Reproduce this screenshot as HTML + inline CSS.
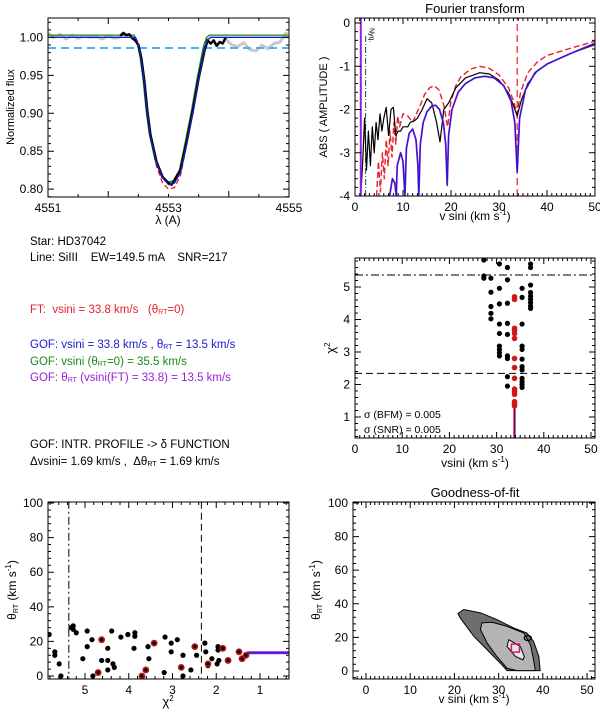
<!DOCTYPE html>
<html><head><meta charset="utf-8">
<style>
html,body{margin:0;padding:0;background:#fff;}
body{width:600px;height:712px;overflow:hidden;position:relative;font-family:"Liberation Sans",sans-serif;}
.t{position:absolute;left:30px;font-size:11.5px;white-space:nowrap;}
sub{font-size:7px;vertical-align:-1px;}
</style></head>
<body>
<svg id="fig" width="600" height="712" style="position:absolute;left:0;top:0" font-family="Liberation Sans, sans-serif"></svg>
<div class="t" style="top:236px">Star: HD37042</div>
<div class="t" style="top:252px">Line: SiIII &nbsp;&nbsp; EW=149.5 mA &nbsp;&nbsp; SNR=217</div>
<div class="t" style="top:304px;color:#e8202a">FT: &nbsp;vsini = 33.8 km/s &nbsp;&nbsp;(θ<sub>RT</sub>=0)</div>
<div class="t" style="top:339px;color:#1a1ad0">GOF: vsini = 33.8 km/s , θ<sub>RT</sub> = 13.5 km/s</div>
<div class="t" style="top:356px;color:#1a8a1a">GOF: vsini (θ<sub>RT</sub>=0) = 35.5 km/s</div>
<div class="t" style="top:372px;color:#9a20d8">GOF: θ<sub>RT</sub> (vsini(FT) = 33.8) = 13.5 km/s</div>
<div class="t" style="top:439px">GOF: INTR. PROFILE -&gt; δ FUNCTION</div>
<div class="t" style="top:456px">Δvsini= 1.69 km/s , &nbsp;Δθ<sub>RT</sub> = 1.69 km/s</div>
<script>
// ---------- data ----------
const profObsLam = [4552.2,4552.25,4552.3,4552.35,4552.4,4552.45,4552.5,4552.55,4552.6,4552.65,4552.7,4552.8,4552.9,4553,4553.05,4553.1,4553.2,4553.3,4553.4,4553.5,4553.6,4553.65,4553.7,4553.75,4553.8,4553.85,4553.9,4553.95];
const profObsFlux = [1.002,1.006,1.003,1.004,0.999,0.996,0.99,0.972,0.942,0.902,0.872,0.836,0.816,0.808,0.806,0.812,0.825,0.862,0.902,0.946,0.984,0.996,0.992,0.996,0.989,0.994,0.992,1.0];
const profGrayLam = [4551,4551.1,4551.2,4551.3,4551.4,4551.5,4551.6,4551.7,4551.8,4551.9,4552,4552.1,4552.2];
const profGrayFlux = [1.006,1.0,1.004,0.998,1.003,0.999,1.002,1.0,1.001,0.998,1.002,0.999,1.0];
const profGrayLam2 = [4553.95,4554.05,4554.15,4554.25,4554.35,4554.45,4554.55,4554.65,4554.75,4554.85,4554.95,4555];
const profGrayFlux2 = [0.998,0.99,0.988,0.993,0.984,0.982,0.99,0.985,0.992,0.994,1.006,1.0];
const profModelLam = [4551,4552.45,4552.5,4552.55,4552.6,4552.65,4552.7,4552.8,4552.9,4553,4553.1,4553.2,4553.3,4553.4,4553.5,4553.6,4553.65,4553.7,4555];
const profModelFlux = [1,1,0.99,0.97,0.94,0.90,0.87,0.835,0.815,0.806,0.808,0.822,0.86,0.90,0.945,0.985,0.997,1,1];
const profRedLam = [4552.45,4552.5,4552.55,4552.6,4552.65,4552.7,4552.8,4552.9,4553,4553.1,4553.2,4553.3,4553.4,4553.5,4553.6,4553.65,4553.7];
const profRedFlux = [1,0.993,0.975,0.944,0.902,0.868,0.83,0.808,0.8,0.802,0.818,0.858,0.90,0.948,0.99,1.0,1];
const contLevel = 0.986;

const ftX = [1.2,1.6,2,2.4,2.8,3.2,3.6,4,4.4,4.8,5.2,5.6,6,6.5,7,7.5,8,8.5,9,9.5,10,11,11.5,12.5,13,14,15,16,17,17.7,18.5,19.5,21,23,26,28,30,32,33,33.8,34.6,36,38,40,45,50];
const ftBlack = [-4,-3.2,-2.2,-3.4,-2.5,-3.3,-2.4,-3.0,-2.3,-2.7,-2.1,-2.5,-2.2,-1.95,-2.6,-2.0,-1.95,-2.6,-2.5,-2.5,-2.4,-2.4,-2.3,-2.25,-2.2,-2.0,-1.75,-1.85,-2.3,-2.75,-2.0,-1.85,-1.5,-1.27,-1.15,-1.18,-1.32,-1.62,-1.9,-2.15,-1.8,-1.4,-1.1,-0.95,-0.7,-0.5];
const ftBlueX = [7.2,7.8,8.3,8.6,8.8,9.5,10,10.4,10.7,11.3,12,12.7,13.1,13.3,13.6,14.2,15,16,16.8,17.6,18.4,18.9,19.2,19.5,20.2,21.5,23,25,27,29,31,32.5,33.3,33.8,34.3,35.5,37.5,40,45,50];
const ftBlue = [-4,-3.6,-3.7,-4,-3.3,-3.0,-3.2,-4,-2.9,-2.55,-2.45,-2.7,-3.3,-4,-2.8,-2.3,-2.05,-1.92,-1.9,-2.0,-2.3,-2.8,-3.75,-2.6,-2.0,-1.6,-1.4,-1.27,-1.23,-1.27,-1.45,-1.8,-2.3,-3.45,-2.2,-1.55,-1.15,-0.95,-0.7,-0.47];
const ftRedX = [4.5,4.9,5.3,5.7,6.1,6.5,6.9,7.3,7.7,8.1,8.5,8.9,9.3,10,11,12,12.8,13.6,14.5,15.5,16.5,17.5,18.5,19.3,20,21,22,24,26,28,30,32,33,33.8,34.5,36,38,40,45,50];
const ftRed = [-4,-3.2,-3.9,-3.0,-3.6,-2.7,-3.3,-2.5,-3.1,-2.3,-2.8,-2.15,-2.4,-2.1,-2.15,-2.3,-2.1,-1.9,-1.65,-1.5,-1.45,-1.55,-1.9,-2.4,-1.8,-1.45,-1.25,-1.07,-1.0,-1.05,-1.2,-1.5,-1.8,-2.1,-1.6,-1.15,-0.9,-0.75,-0.58,-0.42];
const ftBest = 33.8, nyq = 2.2;

const chiVs = [27.3,27.3,27.3,28.8,28.8,28.8,28.8,28.8,30.6,30.6,30.6,30.6,30.6,30.6,30.6,30.6,30.6,32.3,32.3,32.3,32.3,32.3,32.3,32.3,32.3,32.3,35.4,35.4,35.4,35.4,35.4,35.4,35.4,35.4,35.4,35.4,35.4,35.4,37.2,37.2,37.2,37.2,37.2,37.2,37.2,37.2,37.2];
const chiVals = [5.83,5.34,5.27,5.27,4.84,4.4,4.19,4.02,5.71,4.96,4.48,3.86,3.57,3.18,3.08,2.98,2.88,5.6,5.22,4.5,3.88,3.54,2.88,2.8,2.24,1.95,4.96,4.68,3.86,3.18,3.08,2.78,2.55,2.45,2.19,2.09,2.0,1.91,5.71,5.6,5.06,4.83,4.72,4.62,4.52,4.42,4.34];
const chiRedVals = [4.7,4.62,3.73,3.66,3.57,3.42,2.8,2.52,2.19,1.86,1.78,1.7,1.47,1.4,1.34];
const chiLimit1 = 5.37, chiLimit2 = 2.34;

const thChi = [5.82,5.69,5.69,5.59,5.55,5.32,5.27,5.27,5.2,5.05,4.95,4.95,4.84,4.82,4.62,4.48,4.48,4.48,4.39,4.36,4.33,4.18,4.02,3.86,3.86,3.88,3.56,3.54,3.17,3.19,3.03,3.03,2.89,2.76,2.76,2.58,2.45,2.26,2.24,2.19,2.1,1.96,1.96,1.94,1.98];
const thVal = [24,14,12,7,0,28,27,29,25,10,26,17,21,0,9,16,9,3.5,26,7,5,22.5,24,23,25,16,17,10,22.5,2,19,14,21,12,0,3.5,12,19,14,6,10,17,15,9,7];
const thRedChi = [4.7,4.62,3.7,3.61,3.42,2.8,2.49,2.19,1.85,1.73,1.48,1.41,1.32];
const thRedVal = [2,21,0,3.5,19,5,17,7,16,9,14,10,12];
const thetaBest = 13.5;

const gofOuterV = [20.8,22.1,25.9,29.6,33.4,36.4,37.9,39.1,39.4,31.9,30.4,27.4,24.4,21.3];
const gofOuterT = [34.2,36.6,34.6,30.6,25.6,22.6,17.6,8.6,0.2,0.2,4.6,12.6,20.6,31.6];
const gofMidV = [26.2,28.5,31.9,35.7,37.2,37.9,38.3,34.2,31.9,29.6,27.4,25.9];
const gofMidT = [28.6,29,26.6,22.6,15.6,6.6,0.2,0.2,1.6,8.6,16.6,24.6];
const gofInV = [32.3,34.9,35.8,35.5,33.8,31.9];
const gofInT = [18.6,14.6,8.6,6.6,8.6,14.6];

// ---------- helpers ----------
const svg = document.getElementById('fig');
const NS = 'http://www.w3.org/2000/svg';
function mk(tag, attrs, parent){const e=document.createElementNS(NS,tag);for(const k in attrs)e.setAttribute(k,attrs[k]);(parent||svg).appendChild(e);return e;}
function scale(d0,d1,p0,p1){return v=>p0+(v-d0)*(p1-p0)/(d1-d0);}
function panel(name,L,R,T,B,xd,yd){
  const g=mk('g',{});
  
  
  const cp='cp-'+name;
  const c=mk('clipPath',{id:cp},g);mk('rect',{x:L,y:T,width:R-L,height:B-T},c);
  const inner=mk('g',{'clip-path':'url(#'+cp+')'},g);
  return {g,inner,L,R,T,B,x:scale(xd[0],xd[1],L,R),y:scale(yd[0],yd[1],B,T),xd,yd};
}
function frame(p,xMaj,xMin,yMaj,yMin,xlab,ylab){
  const g=p.g;
  mk('rect',{x:p.L,y:p.T,width:p.R-p.L,height:p.B-p.T,fill:'none',stroke:'#000','stroke-width':1},g);
  const lo=Math.min(p.xd[0],p.xd[1]),hi=Math.max(p.xd[0],p.xd[1]);
  const ylo=Math.min(p.yd[0],p.yd[1]),yhi=Math.max(p.yd[0],p.yd[1]);
  let d='';
  for(let v=Math.ceil(lo/xMin-1e-6)*xMin;v<=hi+1e-9;v+=xMin){const X=p.x(v);const maj=Math.abs(v/xMaj-Math.round(v/xMaj))<1e-6;const l=maj?6:3;d+=`M${X},${p.B}v${-l}M${X},${p.T}v${l}`;}
  for(let v=Math.ceil(ylo/yMin-1e-6)*yMin;v<=yhi+1e-9;v+=yMin){const Y=p.y(v);const maj=Math.abs(v/yMaj-Math.round(v/yMaj))<1e-6;const l=maj?6:3;d+=`M${p.L},${Y}h${l}M${p.R},${Y}h${-l}`;}
  mk('path',{d,stroke:'#000','stroke-width':1,fill:'none'},g);
  xlab.forEach(v=>{const t=mk('text',{x:p.x(v),y:p.B+15,'font-size':12,'text-anchor':'middle'},g);t.textContent=String(v);});
  ylab.forEach(v=>{const t=mk('text',{x:p.L-5,y:p.y(v)+4,'font-size':12,'text-anchor':'end'},g);t.textContent=(typeof v==='number'&&p.fmt)?p.fmt(v):String(v);});
}
function line(p,xs,ys,attrs,name){
  const pts=xs.map((v,i)=>p.x(v).toFixed(1)+','+p.y(ys[i]).toFixed(1)).join(' ');
  const e=mk('polyline',Object.assign({points:pts,fill:'none','stroke-linejoin':'round'},attrs),p.inner);
  
  
  return e;
}
function dot(p,xv,yv,r,fill,name,parent){
  const e=mk('circle',{cx:p.x(xv),cy:p.y(yv),r,fill},parent||p.inner);
  
  
}
function label(txt,x,y,size,rot,name,anchor){
  const t=mk('text',{x,y,'font-size':size,'text-anchor':anchor||'middle',transform:rot?`rotate(-90 ${x} ${y})`:''});
  t.innerHTML=txt;
  
  
  return t;
}

// ---------- panel 1: line profile ----------
const p1=panel('profile-panel',48,289,18,197,[4551,4555],[0.7896,1.0256]);
p1.fmt=v=>v.toFixed(2);
line(p1,profGrayLam,profGrayFlux,{stroke:'#c8c8c8','stroke-width':3},'observed-outside-gray');
line(p1,profGrayLam2,profGrayFlux2,{stroke:'#c8c8c8','stroke-width':3},'observed-outside-gray-right');
line(p1,[4551,4555],[contLevel,contLevel],{stroke:'#4ab4ee','stroke-width':2,'stroke-dasharray':'8,5'},'continuum-level');
line(p1,profRedLam,profRedFlux,{stroke:'#e8202a','stroke-width':1.3,'stroke-dasharray':'5,3'},'ft-model');
line(p1,profModelLam.map(v=>v-0.02),profModelFlux.map(v=>v+0.003),{stroke:'#1a8a1a','stroke-width':1.3},'gof-theta0-model');
line(p1,profModelLam,profModelFlux,{stroke:'#9a20d8','stroke-width':1.3},'gof-ft-model');
line(p1,profObsLam,profObsFlux,{stroke:'#000','stroke-width':2.5},'observed-profile');
line(p1,profModelLam,profModelFlux,{stroke:'#1a1ad0','stroke-width':1.2},'gof-best-model');
frame(p1,2,0.5,0.05,0.01,[4551,4553,4555],[0.80,0.85,0.90,0.95,1.00]);
label('Normalized flux',14,107,11,true,'y-axis-title');
label('λ (A)',168,224,12,false,'x-axis-title');

// ---------- panel 2: Fourier transform ----------
const p2=panel('fourier-panel',355,595,18,196,[0,50],[-4,0.116]);
line(p2,[ftBest,ftBest],[-4,0.2],{stroke:'#e8202a','stroke-width':1.2,'stroke-dasharray':'7,4'},'ft-best-marker');
line(p2,[nyq,nyq],[-4,-0.3],{stroke:'#444','stroke-width':1,'stroke-dasharray':'6,2,1,2'},'nyquist-line');
line(p2,ftRedX,ftRed,{stroke:'#e8202a','stroke-width':1.4,'stroke-dasharray':'6,3'},'ft-model-dashed');
line(p2,ftX,ftBlack,{stroke:'#000','stroke-width':1.2},'ft-observed');
line(p2,ftBlueX,ftBlue,{stroke:'#9a20d8','stroke-width':1.8},'ft-gof-ft');
line(p2,ftBlueX,ftBlue,{stroke:'#1a1ad0','stroke-width':1},'ft-gof-best');
line(p2,[1.2,1.2],[-4,0.2],{stroke:'#9a20d8','stroke-width':2},'ft-left-edge');
frame(p2,10,1,1,0.2,[0,10,20,30,40,50],[0,-1,-2,-3,-4]);
label('Nyq.',p2.x(nyq)+4,28,7,false,'nyquist-label','start').setAttribute('transform',`rotate(90 ${p2.x(nyq)+4} 28)`);
label('Fourier transform',475,13,13,false,'fourier-title');
label('ABS ( AMPLITUDE )',327,107,11,true,'y-axis-title-ft');
label('v sini (km s<tspan font-size="8" dy="-5">-1</tspan><tspan dy="5">)</tspan>',475,220,12,false,'x-axis-title-ft');

// ---------- panel 3: chi2 vs vsini ----------
const p3=panel('chi2-vsini-panel',355,595,258,438,[0,50.85],[0.354,5.892]);
line(p3,[0,60],[chiLimit1,chiLimit1],{stroke:'#000','stroke-width':1,'stroke-dasharray':'8,3,2,3'},'chi2-limit-dashdot');
line(p3,[0,60],[chiLimit2,chiLimit2],{stroke:'#000','stroke-width':1,'stroke-dasharray':'7,4'},'chi2-limit-dashed');
chiVs.forEach((v,i)=>dot(p3,v,chiVals[i],2.6,'#000','chi2-point'));
line(p3,[ftBest,ftBest],[0,1.3],{stroke:'#e8202a','stroke-width':2.5},'chi2-best-line');
line(p3,[ftBest,ftBest],[0,1.3],{stroke:'#1a1ad0','stroke-width':1},'chi2-best-line-blue');
chiRedVals.forEach(v=>dot(p3,ftBest,v,2.8,'#d01818','chi2-point-ft'));
frame(p3,10,1,1,0.2,[0,10,20,30,40,50],[1,2,3,4,5]);
label('σ (BFM) = 0.005',364,418,10.5,false,'sigma-bfm','start');
label('σ (SNR) = 0.005',364,433,10.5,false,'sigma-snr','start');
label('χ<tspan font-size="8" dy="-5">2</tspan>',335,348,13,true,'y-axis-title-chi2');
label('vsini (km s<tspan font-size="8" dy="-5">-1</tspan><tspan dy="5">)</tspan>',475,467,12,false,'x-axis-title-chi2');

// ---------- panel 4: theta vs chi2 ----------
const p4=panel('theta-chi2-panel',48,289,502,679,[5.846,0.337],[-1.73,100.6]);
line(p4,[chiLimit1,chiLimit1],[-5,105],{stroke:'#000','stroke-width':1,'stroke-dasharray':'8,3,2,3'},'theta-limit-dashdot');
line(p4,[chiLimit2,chiLimit2],[-5,105],{stroke:'#000','stroke-width':1,'stroke-dasharray':'7,4'},'theta-limit-dashed');
line(p4,[1.3,0],[thetaBest,thetaBest],{stroke:'#9a20d8','stroke-width':3},'theta-best-line');
line(p4,[1.3,0],[thetaBest,thetaBest],{stroke:'#1a1ad0','stroke-width':1},'theta-best-line-blue');
thChi.forEach((c,i)=>dot(p4,c,thVal[i],2.6,'#000','theta-point'));
thRedChi.forEach((c,i)=>{dot(p4,c,thRedVal[i],3.4,'#b01818','theta-point-ft');dot(p4,c,thRedVal[i],1.6,'#000','theta-point-ft-core');});
frame(p4,1,0.2,20,4,[5,4,3,2,1],[0,20,40,60,80,100]);
label('θ<tspan font-size="7" dy="2">RT</tspan><tspan dy="-2"> (km s</tspan><tspan font-size="8" dy="-5">-1</tspan><tspan dy="5">)</tspan>',16,590,12,true,'y-axis-title-theta');
label('χ<tspan font-size="8" dy="-5">2</tspan>',168,706,13,false,'x-axis-title-chi2-bottom');

// ---------- panel 5: goodness of fit ----------
const p5=panel('gof-panel',353,595,502,679,[-2.94,51.8],[-4.8,100.6]);
function poly(p,xs,ys,fill,name){const e=mk('polygon',{points:xs.map((v,i)=>p.x(v)+','+p.y(ys[i])).join(' '),fill,stroke:'#000','stroke-width':1},p.inner);}
poly(p5,gofOuterV,gofOuterT,'#6e6e6e','gof-contour-outer');
poly(p5,gofMidV,gofMidT,'#b4b4b4','gof-contour-mid');
poly(p5,gofInV,gofInT,'#e6e6e6','gof-contour-inner');
const oe=mk('ellipse',{cx:p5.x(36.6),cy:p5.y(19.6),rx:3.5,ry:2.5,fill:'none',stroke:'#000','stroke-width':1.3},p5.inner);


const sq=mk('rect',{x:p5.x(33.8)-4,y:p5.y(13.6)-4,width:8,height:8,fill:'none',stroke:'#d0186a','stroke-width':1.5},p5.inner);


frame(p5,10,1,20,4,[0,10,20,30,40,50],[0,20,40,60,80,100]);
label('Goodness-of-fit',475,497,13,false,'gof-title');
label('θ<tspan font-size="7" dy="2">RT</tspan><tspan dy="-2"> (km s</tspan><tspan font-size="8" dy="-5">-1</tspan><tspan dy="5">)</tspan>',320,590,12,true,'y-axis-title-gof');
label('v sini (km s<tspan font-size="8" dy="-5">-1</tspan><tspan dy="5">)</tspan>',474,703,12,false,'x-axis-title-gof');
</script>
</body></html>
